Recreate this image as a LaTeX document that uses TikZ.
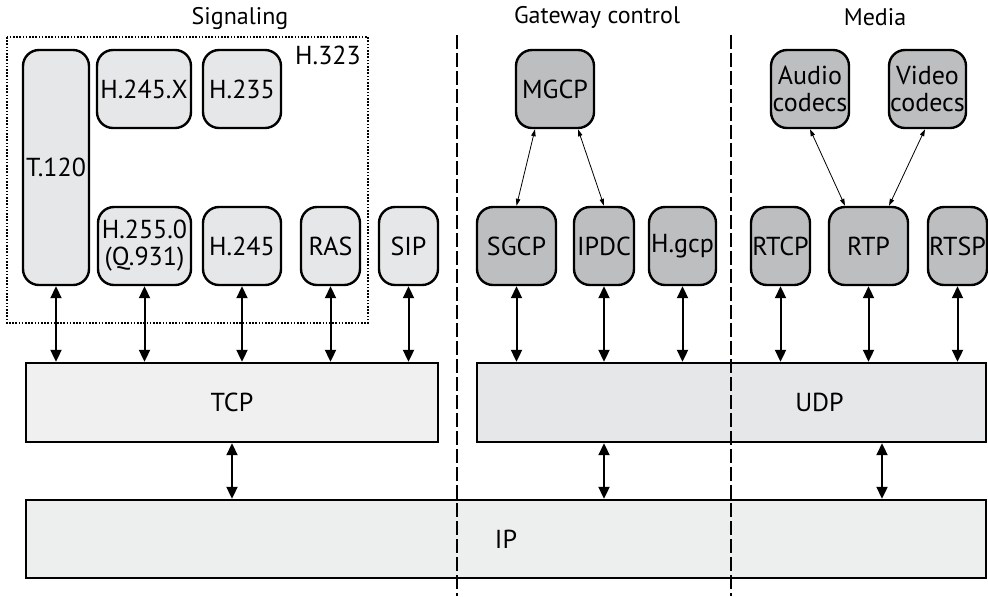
\documentclass[tikz,border=0pt]{standalone}
\usepackage{fontspec}
\setmainfont{PT Sans}
\definecolor{ProtoLight}{RGB}{230,231,232}
\definecolor{ProtoDark}{RGB}{188,190,192}
\definecolor{TcpFill}{RGB}{240,240,241}
\definecolor{UdpFill}{RGB}{230,231,232}
\definecolor{IpFill}{RGB}{237,238,238}
\usetikzlibrary{arrows.meta,positioning,calc}
\tikzset{
  proto/.style={draw,line width=1.2pt,rounded corners=8pt,inner sep=0pt,
    align=center,font=\fontsize{13}{13.5}\selectfont,minimum height=39pt},
  protolight/.style={proto,fill=ProtoLight},
  protodark/.style={proto,fill=ProtoDark},
  layer/.style={draw,line width=1.2pt,font=\fontsize{13}{14}\selectfont,minimum height=39.5pt},
  plane/.style={font=\fontsize{12}{13}\selectfont},
  stackarrow/.style={{Triangle[length=6pt,width=5.5pt]}-{Triangle[length=6pt,width=5.5pt]},line width=1pt},
  ctrlarrow/.style={{Triangle[length=3.5pt,width=2.2pt]}-{Triangle[length=3.5pt,width=2.2pt]},line width=0.4pt},
  border/.style={line width=1pt,dash pattern=on 7pt off 2pt}
}
\begin{document}
\begin{tikzpicture}[x=0.5pt,y=-0.5pt]
\useasboundingbox (0,0) rectangle (988,596);
% plane titles
\node[plane] (sigtitle) at (240,18) {Signaling};
\node[plane] (gwtitle) at (597,17) {Gateway control};
\node[plane] (medtitle) at (875,17) {Media};
% H.323 family
\draw[line width=0.8pt,dash pattern=on 0.8pt off 0.8pt] (7,37) rectangle (368,323);
\node[font=\fontsize{13}{14}\selectfont] (h323) at (328,55) {H.323};
\node[protolight,minimum width=33pt,minimum height=117.5pt] (t120) at (56,167.5) {T.120};
\node[protolight,minimum width=47pt] (h245x) at (144,89) {H.245.X};
\node[protolight,minimum width=39pt] (h235) at (242,89) {H.235};
\node[protolight,minimum width=46.5pt] (h2250) at (144.5,246) {H.255.0\\(Q.931)};
\node[protolight,minimum width=39pt] (h245) at (242,246) {H.245};
\node[protolight,minimum width=29.5pt] (ras) at (330.5,246) {RAS};
\node[protolight,minimum width=29.5pt] (sip) at (408.5,246) {SIP};
% gateway control
\node[protodark,minimum width=39pt] (mgcp) at (555,89) {MGCP};
\node[protodark,minimum width=39.5pt] (sgcp) at (516.5,246) {SGCP};
\node[protodark,minimum width=30pt] (ipdc) at (604,246) {IPDC};
\node[protodark,minimum width=33.5pt] (hgcp) at (682.5,246) {H.gcp};
% media
\node[protodark,minimum width=39pt] (audio) at (810,89) {Audio\\codecs};
\node[protodark,minimum width=38.5pt] (video) at (927.5,89) {Video\\codecs};
\node[protodark,minimum width=29.5pt] (rtcp) at (780.5,246) {RTCP};
\node[protodark,minimum width=39.5pt] (rtp) at (868.5,246) {RTP};
\node[protodark,minimum width=29.5pt] (rtsp) at (957.5,246) {RTSP};
% transport and network
\node[layer,fill=TcpFill,minimum width=206pt] (tcp) at (232,402.5) {TCP};
\node[layer,fill=UdpFill,minimum width=254.5pt,label={[font=\fontsize{13}{14}\selectfont]center:\hspace*{88pt}UDP}] (udp) at (731.5,402.5) {};
\node[layer,fill=IpFill,minimum width=480pt,minimum height=39pt] (ip) at (506,539) {IP};
% plane borders
\draw[border] (457,35) -- (457,596);
\draw[border] (731,35) -- (731,596);
% control links
\draw[ctrlarrow] ([xshift=-10pt]mgcp.south) -- (sgcp.north);
\draw[ctrlarrow] ([xshift=11.5pt]mgcp.south) -- (ipdc.north);
\draw[ctrlarrow] (audio.south) -- ([xshift=-11.75pt]rtp.north);
\draw[ctrlarrow] ([xshift=-1.25pt]video.south) -- ([xshift=10.25pt]rtp.north);
% stack links
\foreach \p in {t120,h2250,h245,ras,sip}
  \draw[stackarrow] (\p.south) -- (\p.south |- tcp.north);
\foreach \p in {sgcp,ipdc,hgcp,rtcp,rtp,rtsp}
  \draw[stackarrow] (\p.south) -- (\p.south |- udp.north);
\draw[stackarrow] (tcp.south) -- (tcp.south |- ip.north);
\draw[stackarrow] (udp.south -| ipdc.south) -- (ip.north -| ipdc.south);
\draw[stackarrow] (udp.south -| 882,0) -- (ip.north -| 882,0);
\end{tikzpicture}
\end{document}
